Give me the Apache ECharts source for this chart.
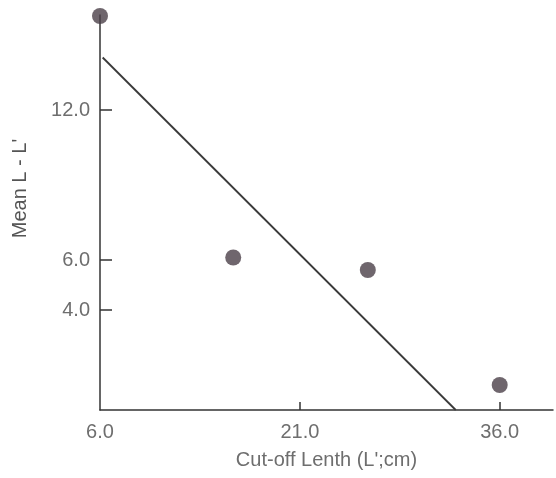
<!DOCTYPE html>
<html>
<head>
<meta charset="utf-8">
<script src="https://cdn.jsdelivr.net/npm/echarts@6/dist/echarts.min.js"></script>
<style>
html,body{margin:0;padding:0;background:#fff;}
#chart{width:556px;height:478px;}
</style>
</head>
<body>
<div id="chart"></div>
<script>
// Data
const pointX = [6.0, 16.0, 26.1, 36.0];
const pointY = [15.76, 6.1, 5.6, 1.0];
const lineX = [6.2, 32.7];
const lineY = [14.1, 0.0];
const xTickLabels = [6, 21, 36];
const xTickMarks = [21, 36];
const yTicks = [4, 6, 12];
const xTitle = "Cut-off Lenth (L';cm)";
const yTitle = "Mean L - L'";

const points = pointX.map((x, i) => [x, pointY[i]]);
const fitLine = lineX.map((x, i) => [x, lineY[i]]);

const labelColor = '#6e6e6e';
const fontFamily = 'Liberation Sans, Arial, sans-serif';

const chart = echarts.init(document.getElementById('chart'), null, {renderer: 'canvas'});
chart.setOption({
  animation: false,
  backgroundColor: '#fff',
  grid: {left: 100, right: 3, top: 15, bottom: 68, containLabel: false},
  xAxis: {
    type: 'value', min: 6, max: 40,
    name: xTitle, nameLocation: 'middle', nameGap: 40,
    nameTextStyle: {color: labelColor, fontSize: 20, fontFamily: fontFamily},
    axisLine: {show: true, onZero: false, lineStyle: {color: '#333', width: 1.5}},
    axisTick: {show: true, inside: true, length: 8, customValues: xTickMarks, lineStyle: {color: '#333', width: 1.5}},
    axisLabel: {show: true, customValues: xTickLabels, margin: 12, color: labelColor, fontSize: 20, fontFamily: fontFamily,
      formatter: v => v.toFixed(1)},
    splitLine: {show: false}
  },
  yAxis: {
    type: 'value', min: 0, max: 15.8,
    name: yTitle, nameLocation: 'middle', nameGap: 70,
    nameTextStyle: {color: '#555', fontSize: 20, fontFamily: fontFamily, padding: [0, 0, 0, 48]},
    axisLine: {show: true, onZero: false, lineStyle: {color: '#333', width: 1.5}},
    axisTick: {show: true, inside: true, length: 12, customValues: yTicks, lineStyle: {color: '#333', width: 1.5}},
    axisLabel: {show: true, customValues: yTicks, margin: 10, color: labelColor, fontSize: 20, fontFamily: fontFamily,
      padding: [0, 0, 8, 0],
      formatter: v => v.toFixed(1)},
    splitLine: {show: false}
  },
  series: [
    {
      type: 'line', data: fitLine, symbol: 'none',
      lineStyle: {color: '#3a3a3a', width: 1.8}, z: 2
    },
    {
      type: 'scatter', data: points, symbol: 'circle', symbolSize: 16,
      itemStyle: {color: '#4b4049'}, z: 3
    }
  ]
});
</script>
</body>
</html>
